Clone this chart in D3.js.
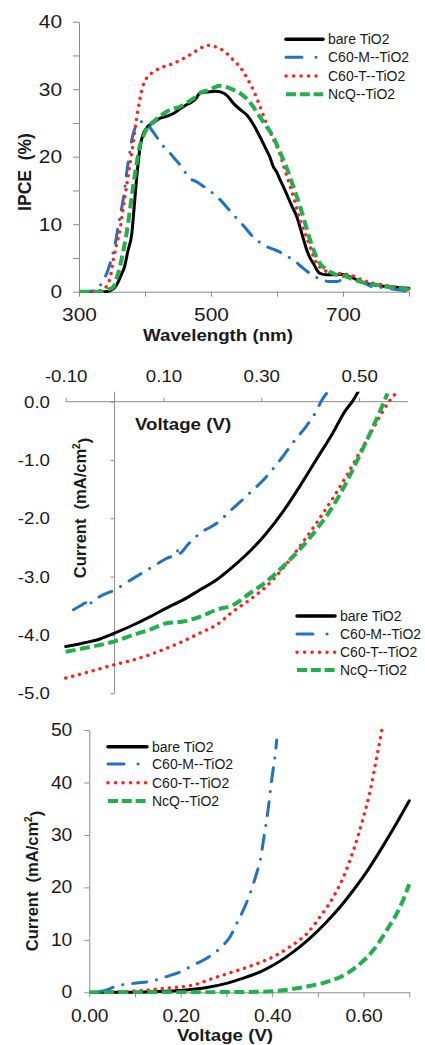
<!DOCTYPE html>
<html>
<head>
<meta charset="utf-8">
<script src="https://cdn.jsdelivr.net/npm/d3@7"></script>
<style>
  html, body { margin: 0; padding: 0; background: #fff; }
  svg { display: block; font-family: "Liberation Sans", Arial, sans-serif; }
  .wideC { transform-box: fill-box; transform-origin: center; transform: scaleX(1.1); }
  .wideR { transform-box: fill-box; transform-origin: right center; transform: scaleX(1.1); }
</style>
</head>
<body>
<svg id="chart" width="425" height="1045"></svg>
<script>
// ---- data: IPCE spectra [wavelength nm, IPCE %]
var ipceBare = [[300,0],[320,0],[340,0],[350,0.3],[357,1],[364,2.5],[369,3.7],[374,6],[380,8.6],[384,13],[388,17.5],[392,21],[396,23],[402,24.2],[412,25],[423,25.7],[433,26],[443,26.4],[455,27.2],[465,27.8],[471,28.1],[477,28.6],[483,29.4],[495,29.6],[507,29.7],[514,29.6],[524,29.1],[534,27.9],[544,27],[554,26.2],[564,24.8],[574,23],[584,21],[589,20],[594,18.6],[599,17.8],[606,16.3],[614,14.6],[622,12.8],[630,11.1],[638,8.5],[645,6.2],[650,5],[655,4.2],[660,3.3],[665,2.7],[675,2.5],[685,2.5],[695,2.6],[705,2.4],[716,2],[726,1.5],[736,1.2],[748,1],[761,0.8],[775,0.7],[786,0.6],[800,0.5]];
var ipceC60M = [[300,0],[310,0],[320,0.1],[326,0.4],[332,0.9],[337,1.8],[342,2.7],[348,4.5],[355,7.2],[360,10],[365,12.6],[369,15],[372,17.5],[376,20],[380,22.5],[384,24],[390,25],[396,25.2],[402,25],[412,23.7],[423,22.2],[430,21.3],[438,20.5],[446,19.6],[453,18.8],[460,17.8],[468,16.8],[478,16.3],[487,15.7],[496,15.1],[505,14.4],[514,13.6],[524,12.5],[534,11.4],[549,9.8],[564,8.1],[574,7.3],[584,6.7],[594,6.3],[604,5.9],[614,5.3],[625,4.7],[637,3.7],[650,2.7],[660,2.1],[670,1.7],[680,1.5],[691,1.5],[700,1.9],[711,2.2],[718,1.9],[726,1.5],[736,1.1],[746,0.7],[761,0.6],[775,0.4],[790,0.2],[797,0]];
var ipceC60T = [[300,0],[320,0],[330,0.1],[337,0.4],[343,1],[347,2],[352,4.7],[357,7],[362,9.1],[367,12.5],[372,15.6],[377,18.8],[382,22],[387,25.5],[392,28.4],[397,30.5],[402,31.6],[412,32.5],[423,33.1],[433,33.5],[443,33.8],[453,34.3],[463,34.8],[473,35.4],[483,36],[491,36.4],[498,36.5],[506,36.3],[514,36],[524,35.3],[534,34.3],[542,33.5],[549,32.6],[556,31.4],[564,29.9],[574,27.5],[584,24.9],[594,22.7],[604,20.5],[612,18],[620,15.6],[628,13],[635,10.6],[643,8.5],[650,6.7],[655,5.3],[660,4.2],[667,3.5],[675,3],[685,2.8],[695,2.7],[703,2.6],[711,2.5],[723,2],[736,1.5],[748,1.2],[761,1],[773,0.8],[786,0.5],[800,0.4]];
var ipceNcQ = [[300,0],[320,0],[335,0],[343,0.3],[352,0.7],[357,2],[362,3.7],[367,6],[372,8.6],[377,12],[382,15.6],[387,18.8],[392,21.5],[397,23],[402,24],[408,24.8],[413,25.2],[423,26],[433,26.7],[443,27.1],[453,27.4],[463,28],[473,28.6],[483,29.4],[490,29.7],[498,29.9],[506,30.3],[514,30.5],[524,30.3],[534,29.9],[544,29.4],[554,28.6],[564,27.4],[574,25.9],[584,24.5],[594,23],[604,20.8],[614,18.5],[625,15.5],[635,12.6],[643,10],[650,7.7],[657,5.8],[665,4.2],[675,3.3],[685,2.7],[695,2.4],[706,2.2],[716,1.8],[726,1.5],[738,1.2],[751,1],[763,0.8],[776,0.6],[788,0.5],[800,0.3]];

// ---- data: J-V under light [V, mA/cm2]
var jvBare = [[-0.1,-4.2],[-0.08,-4.17],[-0.064,-4.14],[-0.03,-4.07],[0,-3.97],[0.038,-3.83],[0.072,-3.69],[0.106,-3.54],[0.14,-3.4],[0.174,-3.23],[0.208,-3.06],[0.242,-2.83],[0.276,-2.57],[0.31,-2.26],[0.344,-1.89],[0.378,-1.46],[0.412,-1.0],[0.446,-0.54],[0.473,-0.14],[0.486,0],[0.5,0.2]];
var jvC60M = [[-0.084,-3.57],[-0.07,-3.5],[-0.058,-3.45],[-0.054,-3.52],[-0.05,-3.47],[-0.03,-3.34],[0,-3.23],[0.038,-3.03],[0.072,-2.86],[0.106,-2.69],[0.128,-2.6],[0.13,-2.5],[0.133,-2.6],[0.15,-2.45],[0.174,-2.26],[0.208,-2.09],[0.242,-1.83],[0.276,-1.57],[0.31,-1.29],[0.344,-0.94],[0.364,-0.71],[0.391,-0.43],[0.412,-0.17],[0.422,0],[0.439,0.2]];
var jvC60T = [[-0.1,-4.74],[-0.064,-4.66],[0,-4.51],[0.038,-4.43],[0.072,-4.34],[0.106,-4.23],[0.14,-4.11],[0.174,-3.97],[0.208,-3.83],[0.242,-3.6],[0.276,-3.4],[0.31,-3.17],[0.344,-2.86],[0.378,-2.49],[0.412,-2.09],[0.446,-1.66],[0.473,-1.29],[0.5,-0.89],[0.527,-0.49],[0.548,-0.17],[0.561,0],[0.578,0.17]];
var jvNcQ = [[-0.1,-4.29],[-0.064,-4.23],[0,-4.11],[0.038,-4.0],[0.072,-3.91],[0.106,-3.8],[0.14,-3.77],[0.174,-3.69],[0.208,-3.57],[0.242,-3.49],[0.276,-3.29],[0.31,-3.09],[0.344,-2.83],[0.378,-2.54],[0.412,-2.2],[0.446,-1.8],[0.473,-1.4],[0.5,-0.94],[0.527,-0.46],[0.548,-0.06],[0.558,0.14]];

// ---- data: dark current [V, mA/cm2]
var darkBare = [[0.02,0],[0.1,0],[0.133,0.1],[0.206,0.4],[0.257,0.9],[0.3,1.7],[0.337,2.7],[0.374,3.9],[0.403,5.2],[0.432,6.8],[0.461,8.7],[0.49,10.9],[0.52,13.5],[0.549,16.3],[0.578,19.5],[0.607,23],[0.637,27.1],[0.666,31.3],[0.7,36.5]];
var darkC60M = [[0.023,0.1],[0.04,0.5],[0.056,1.1],[0.096,1.7],[0.14,2.2],[0.169,3],[0.199,3.9],[0.228,5.2],[0.257,6.5],[0.286,8.4],[0.308,10.6],[0.323,13.2],[0.337,15.7],[0.352,18.9],[0.366,22.7],[0.374,25.2],[0.381,29],[0.392,35.4],[0.399,40.5],[0.407,45.6],[0.41,48.1]];
var darkC60T = [[0.02,0],[0.06,0.1],[0.096,0.25],[0.169,0.8],[0.228,1.4],[0.272,2.7],[0.315,3.9],[0.359,5.2],[0.403,6.8],[0.439,8.7],[0.476,11.2],[0.505,14.4],[0.534,18.2],[0.556,22],[0.578,27.1],[0.6,33.5],[0.615,38.6],[0.629,44.9],[0.64,50]];
var darkNcQ = [[0,0],[0.1,0],[0.242,0],[0.3,0.05],[0.374,0.1],[0.425,0.4],[0.476,1.1],[0.52,2],[0.564,3.6],[0.593,5.5],[0.622,8.1],[0.651,11.9],[0.68,16.3],[0.7,20.6]];

var seriesNames = ["bare TiO2", "C60-M--TiO2", "C60-T--TiO2", "NcQ--TiO2"];

// line styles per series (same order as seriesNames)
var styles = [
  { color: "#000000", width: 3, dash: null, cap: "round" },
  { color: "#2272c3", width: 3, dash: "14 10 0.1 10", cap: "round" },
  { color: "#ff2020", width: 3.4, dash: "0.1 7", cap: "round" },
  { color: "#22b04b", width: 4, dash: "10 4.5", cap: "butt" }
];
var legendDash = [null, "16 14 0.1 14", "0.1 7.4", "10 3.8"];

var AXIS = "#8c8c8c", TEXT = "#1a1a1a";
var svg = d3.select("#chart");

function styleAxis(g) {
  g.select(".domain").attr("stroke", AXIS);
  g.selectAll(".tick line").attr("stroke", AXIS);
  g.selectAll("text").attr("fill", TEXT);
}

function drawSeries(id, x, y, data, box) {
  svg.append("clipPath").attr("id", id)
    .append("rect")
    .attr("x", box[0]).attr("y", box[1])
    .attr("width", box[2] - box[0]).attr("height", box[3] - box[1]);

  var line = d3.line()
    .x(function(d) { return x(d[0]); })
    .y(function(d) { return y(d[1]); })
    .curve(d3.curveMonotoneX);

  var g = svg.append("g").attr("clip-path", "url(#" + id + ")");
  data.forEach(function(s, i) {
    var st = styles[i];
    g.append("path")
      .attr("d", line(s))
      .attr("fill", "none")
      .attr("stroke", st.color)
      .attr("stroke-width", st.width)
      .attr("stroke-linecap", st.cap)
      .attr("stroke-linejoin", "round")
      .attr("stroke-dasharray", st.dash);
  });
}

function drawLegend(x0, x1, rows) {
  var g = svg.append("g");
  rows.forEach(function(ry, i) {
    var st = styles[i];
    g.append("line")
      .attr("x1", x0).attr("x2", x1).attr("y1", ry).attr("y2", ry)
      .attr("stroke", st.color)
      .attr("stroke-width", i == 0 ? 3.5 : st.width)
      .attr("stroke-linecap", st.cap)
      .attr("stroke-dasharray", legendDash[i]);
    g.append("text")
      .attr("x", x1 + 5).attr("y", ry)
      .attr("dy", "0.35em")
      .attr("font-size", 14)
      .attr("fill", TEXT)
      .text(seriesNames[i]);
  });
}

function title(x, y, rotate, size) {
  var t = svg.append("text")
    .attr("text-anchor", "middle")
    .attr("font-weight", "bold")
    .attr("font-size", size || 17)
    .attr("fill", TEXT);
  if (rotate) {
    t.attr("transform", "translate(" + x + "," + y + ") rotate(-90)").attr("dy", "0.35em");
  } else {
    t.attr("class", "wideC").attr("x", x).attr("y", y);
  }
  return t;
}

function currentLabel(x, y) {
  var t = title(x, y, true, 16.5);
  t.append("tspan").text("Current\u00a0\u00a0(mA/cm");
  t.append("tspan").attr("font-size", 10).attr("dy", "-0.6em").text("2");
  t.append("tspan").attr("dy", "0.6em").text(")");
}

// ================= panel 1: IPCE =================
(function() {
  var x = d3.scaleLinear().domain([300, 800]).range([79, 409]);
  var y = d3.scaleLinear().domain([0, 40]).range([291.7, 21.7]);

  var ya = svg.append("g").attr("transform", "translate(79,0)")
    .call(d3.axisLeft(y).tickValues(d3.range(0, 41, 5)).tickSize(6).tickSizeOuter(0)
      .tickPadding(11)
      .tickFormat(function(d) { return d % 10 == 0 ? d : ""; }));
  ya.selectAll("text").attr("font-size", 19).attr("class", "wideR");
  styleAxis(ya);

  var xa = svg.append("g").attr("transform", "translate(0,291.7)")
    .call(d3.axisBottom(x).tickValues(d3.range(300, 801, 100)).tickSize(5).tickSizeOuter(0)
      .tickFormat(function(d) { return d % 200 == 100 ? d : ""; }));
  xa.selectAll("text").attr("font-size", 19).attr("y", 29).attr("dy", 0).attr("class", "wideC");
  styleAxis(xa);

  drawSeries("clip1", x, y, [ipceBare, ipceC60M, ipceC60T, ipceNcQ], [79, 15, 412, 293]);
  drawLegend(286, 323, [39.3, 57.3, 76, 94.3]);

  title(218, 341, false, 17).text("Wavelength (nm)");
  title(25, 172, true, 17.5).text("IPCE\u00a0\u00a0(%)");
})();

// ================= panel 2: J-V light =================
(function() {
  var x = d3.scaleLinear().domain([-0.1, 0.6]).range([65.7, 408]);
  var y = d3.scaleLinear().domain([-5, 0]).range([693.2, 401.7]);
  var fmt2 = function(d) { return d.toFixed(2); };
  var fmt1 = function(d) { return d.toFixed(1); };

  var xa = svg.append("g").attr("transform", "translate(0," + y(0) + ")")
    .call(d3.axisTop(x).tickValues([-0.1, 0.1, 0.3, 0.5]).tickSize(4).tickSizeOuter(0).tickFormat(fmt2));
  xa.select(".domain").attr("d", "M" + x(-0.1) + ",0H408");
  xa.selectAll("text").attr("font-size", 17).attr("y", -20).attr("dy", 0).attr("class", "wideC");
  styleAxis(xa);

  var ya = svg.append("g").attr("transform", "translate(" + x(0) + ",0)")
    .call(d3.axisLeft(y).tickValues(d3.range(-5, 0.5, 1)).tickSize(4).tickSizeOuter(0).tickFormat(fmt1));
  ya.select(".domain").attr("d", "M0," + y(-5) + "V" + y(0.17));
  ya.selectAll("text").attr("font-size", 17).attr("x", 50 - x(0)).attr("class", "wideR");
  styleAxis(ya);

  drawSeries("clip2", x, y, [jvBare, jvC60M, jvC60T, jvNcQ], [62, y(0.17), 412, 700]);
  drawLegend(297, 335, [616, 634, 652.3, 670]);

  title(183, 430, false, 17).text("Voltage (V)");
  currentLabel(80, 508);
})();

// ================= panel 3: dark current =================
(function() {
  var x = d3.scaleLinear().domain([0, 0.7]).range([89.3, 409.3]);
  var y = d3.scaleLinear().domain([0, 50]).range([992.3, 730]);

  var ya = svg.append("g").attr("transform", "translate(89.3,0)")
    .call(d3.axisLeft(y).tickValues(d3.range(0, 51, 10)).tickSize(5).tickSizeOuter(0).tickPadding(12));
  ya.selectAll("text").attr("font-size", 17.5).attr("class", "wideR");
  styleAxis(ya);

  var xa = svg.append("g").attr("transform", "translate(0,992.3)")
    .call(d3.axisBottom(x).tickValues(d3.range(0, 8).map(function(i) { return i / 10; }))
      .tickSize(5).tickSizeOuter(0)
      .tickFormat(function(d) { return Math.round(d * 10) % 2 == 0 ? d.toFixed(2) : ""; }));
  xa.selectAll("text").attr("font-size", 17.5).attr("y", 29.4).attr("dy", 0).attr("class", "wideC");
  styleAxis(xa);

  drawSeries("clip3", x, y, [darkBare, darkC60M, darkC60T, darkNcQ], [87, 727, 412, 994]);
  drawLegend(108, 147, [746.7, 764, 782.7, 801]);

  title(225, 1041, false, 17).text("Voltage (V)");
  currentLabel(32, 881);
})();
</script>
</body>
</html>
